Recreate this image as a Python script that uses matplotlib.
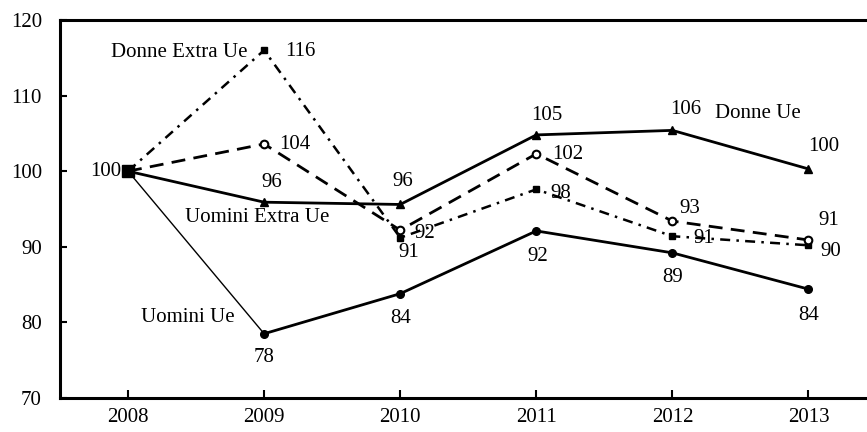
import matplotlib
matplotlib.use("Agg")
import matplotlib.pyplot as plt

plt.rcParams['font.family'] = ['Liberation Serif', 'DejaVu Serif']

years = [2008, 2009, 2010, 2011, 2012, 2013]
donne_ue = [100, 95.9, 95.6, 104.8, 105.4, 100.3]          # solid, triangles
uomini_ue = [100, 78.5, 83.8, 92.1, 89.2, 84.4]            # solid, filled circles
donne_extra_ue = [100, 116.0, 91.2, 97.6, 91.4, 90.2]      # dash-dot, squares
uomini_extra_ue = [100, 103.6, 92.2, 102.3, 93.4, 90.9]    # dashed, open circles

label_donne_ue = ['100', '96', '96', '105', '106', '100']
label_uomini_ue = ['', '78', '84', '92', '89', '84']
label_donne_extra_ue = ['', '116', '91', '98', '91', '90']
label_uomini_extra_ue = ['', '104', '92', '102', '93', '91']

yticks = [70, 80, 90, 100, 110, 120]

FS = 15

fig = plt.figure(figsize=(8.67, 4.32), dpi=100)
ax = fig.add_axes([60/867, 1 - 398/432, 1 - 60/867, (398 - 20)/432])

# Lines
ax.plot(years, donne_extra_ue, color='black', lw=1.8, ls=(0, (4, 2.5, 1, 2.5)),
        marker='s', ms=5, mfc='black', mec='black', zorder=3)
ax.plot(years, uomini_extra_ue, color='black', lw=2.0, ls=(0, (5, 3)),
        marker='o', ms=5.5, mfc='white', mec='black', mew=1.5, zorder=3)
ax.plot(years, donne_ue, color='black', lw=2.0, ls='-',
        marker='^', ms=6, mfc='black', mec='black', zorder=3)
ax.plot(years[:2], uomini_ue[:2], color='black', lw=1.0, ls='-', zorder=3)
ax.plot(years[1:], uomini_ue[1:], color='black', lw=2.0, ls='-',
        marker='o', ms=5.5, mfc='black', mec='black', zorder=3)
ax.plot([years[0]], [donne_ue[0]], marker='s', ms=8, color='black', zorder=4)

# Value labels (offsets in pixels)
off_donne_ue = [(-22, 0), (8, 20), (3, 23), (10, 19), (13, 21), (15, 22)]
off_uomini_ue = [(0, 0), (0, -24), (0, -25), (1, -26), (0, -25), (0, -26)]
off_donne_extra_ue = [(0, 0), (36, -1), (9, -15), (24, -4), (31, -2), (22, -6)]
off_uomini_extra_ue = [(0, 0), (31, -1), (25, -3), (31, -1), (17, 13), (20, 19)]

for vals, labs, offs in [(donne_ue, label_donne_ue, off_donne_ue),
                         (uomini_ue, label_uomini_ue, off_uomini_ue),
                         (donne_extra_ue, label_donne_extra_ue, off_donne_extra_ue),
                         (uomini_extra_ue, label_uomini_extra_ue, off_uomini_extra_ue)]:
    for x, v, t, o in zip(years, vals, labs, offs):
        if t:
            ax.annotate(t, (x, v), xytext=o, textcoords='offset pixels',
                        ha='center', va='center', fontsize=FS, zorder=5)

# Series names
ax.annotate('Donne Extra Ue', (years[1], donne_extra_ue[1]), xytext=(-17, -2),
            textcoords='offset pixels', ha='right', va='center', fontsize=FS)
ax.annotate('Donne Ue', (years[4], donne_ue[4]), xytext=(85, 17),
            textcoords='offset pixels', ha='center', va='center', fontsize=FS)
ax.annotate('Uomini Extra Ue', (years[1], donne_ue[1]), xytext=(-7, -15),
            textcoords='offset pixels', ha='center', va='center', fontsize=FS)
ax.annotate('Uomini Ue', (years[1], uomini_ue[1]), xytext=(-76, 16),
            textcoords='offset pixels', ha='center', va='center', fontsize=FS)

ax.set_xlim(2007.5, 2013.43)
ax.set_ylim(70, 120)
ax.set_yticks(yticks)
ax.set_xticks(years)
ax.set_xticklabels([str(y) for y in years])

ax.spines['right'].set_visible(False)
for s in ['left', 'bottom', 'top']:
    ax.spines[s].set_linewidth(2.2)
    ax.spines[s].set_color('black')

ax.tick_params(axis='y', direction='in', length=5, width=1.5, labelsize=FS, pad=13)
ax.tick_params(axis='x', direction='in', length=6, width=1.5, labelsize=FS, pad=7)

fig.savefig('out.png', dpi=100)
